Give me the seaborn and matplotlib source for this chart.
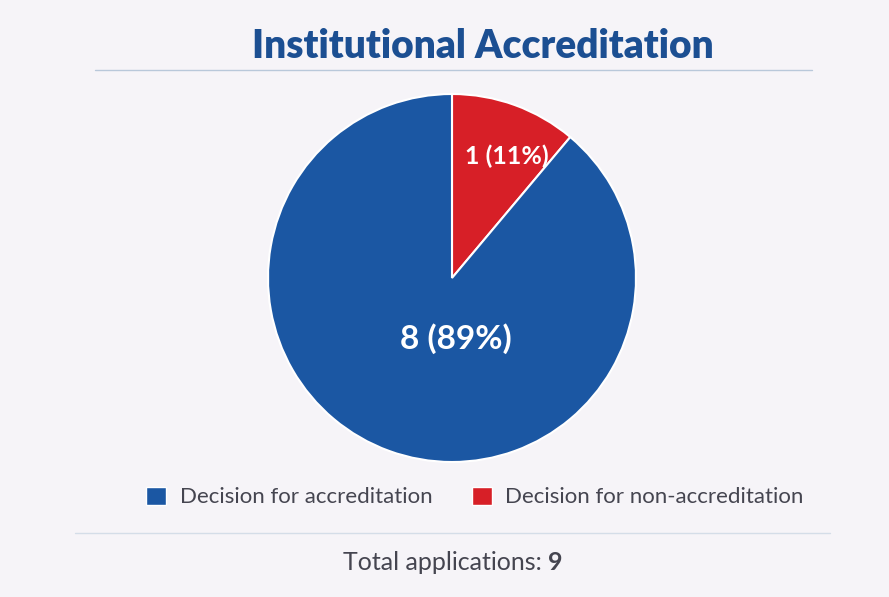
import numpy as np
import pandas as pd
import matplotlib.pyplot as plt
import seaborn as sns
from matplotlib.patches import Patch
from matplotlib.lines import Line2D

categories = ['Decision for non-accreditation', 'Decision for accreditation']
counts = [1, 8]
colors = ['#d71f27', '#1b57a3']
title = 'Institutional Accreditation'

sns.set_theme(style='white')
plt.rcParams['font.family'] = ['Lato', 'DejaVu Sans']

df = pd.DataFrame({'category': categories, 'count': counts})
total = df['count'].sum()

W, H = 889, 597
fig = plt.figure(figsize=(W / 100, H / 100), dpi=100)
fig.patch.set_facecolor('#f6f4f8')

# pie axes, center at (452, 278) px, radius 184 px
cx, cy, r = 452, 278, 184
ax = fig.add_axes([(cx - r) / W, 1 - (cy + r) / H, 2 * r / W, 2 * r / H])
wedges, _ = ax.pie(df['count'], colors=colors, startangle=90, counterclock=False,
                   wedgeprops=dict(edgecolor='white', linewidth=1.5))
ax.set_xlim(-1, 1)
ax.set_ylim(-1, 1)
ax.set_aspect('equal')

# slice labels
lab_pos = [(0.30, 0.66), (0.02, -0.33)]
for (x, y), c in zip(lab_pos, df['count']):
    ax.text(x, y, f'{c} ({c / total:.0%})', ha='center', va='center',
            color='white', fontsize=18 if c == 1 else 24, fontweight='bold')

# title and rules
fig.text(483 / W, 1 - 47 / H, title, ha='center', va='center',
         fontsize=28, fontweight='heavy', color='#1c4f92')
fig.add_artist(Line2D([95 / W, 812 / W], [1 - 70 / H] * 2, color='#b9c8da', lw=1))
fig.add_artist(Line2D([75 / W, 830 / W], [1 - 533 / H] * 2, color='#d4dde8', lw=1))

# legend
handles = [Patch(facecolor=colors[1], label=categories[1]),
           Patch(facecolor=colors[0], label=categories[0])]
fig.legend(handles=handles, loc='center', bbox_to_anchor=(475 / W, 1 - 497 / H),
           ncol=2, frameon=False, fontsize=16, labelcolor='#454550',
           handlelength=0.9, handleheight=0.9, handletextpad=0.6, columnspacing=1.8)

# total
t1 = fig.text(343 / W, 1 - 563 / H, 'Total applications: ', ha='left', va='center',
              fontsize=18, color='#454550')
fig.canvas.draw()
bb = t1.get_window_extent()
fig.text(bb.x1 / W, 1 - 563 / H, str(total), ha='left', va='center',
         fontsize=18, fontweight='bold', fontstyle='normal', color='#454550')

fig.savefig('out.png', dpi=100, facecolor=fig.get_facecolor())
